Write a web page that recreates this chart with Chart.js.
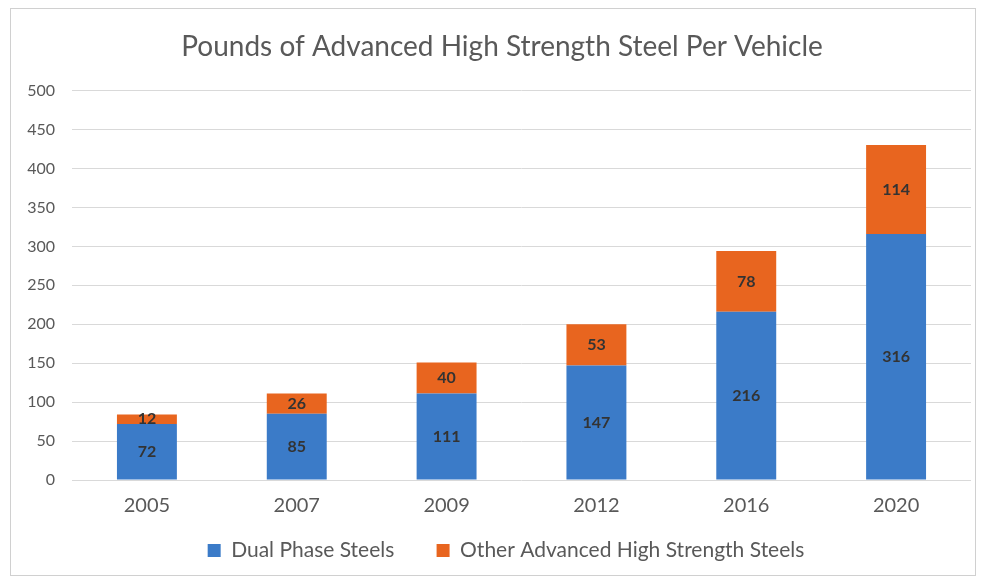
<!DOCTYPE html>
<html>
<head>
<meta charset="utf-8">
<script src="https://cdn.jsdelivr.net/npm/chart.js@4"></script>
<style>
  body { margin: 0; background: #fff; }
  #frame {
    position: absolute; left: 10px; top: 8px;
    width: 966px; height: 568px;
    border: 1px solid #d0d0d0; box-sizing: border-box;
  }
</style>
</head>
<body>
<div id="frame"><canvas id="steel-chart"></canvas></div>
<script>
// chart data
var years = ['2005', '2007', '2009', '2012', '2016', '2020'];
var dualPhase = [72, 85, 111, 147, 216, 316];
var otherAhss = [12, 26, 40, 53, 78, 114];
var yTicks = [0, 50, 100, 150, 200, 250, 300, 350, 400, 450, 500];

var fontFamily = 'Lato, "Open Sans", sans-serif';

// write the value in the middle of every bar segment
var segmentLabels = {
  id: 'segmentLabels',
  afterDatasetsDraw: function (chart) {
    var ctx = chart.ctx;
    ctx.save();
    ctx.font = 'bold 16px ' + fontFamily;
    ctx.fillStyle = '#333333';
    ctx.textAlign = 'center';
    ctx.textBaseline = 'middle';
    chart.data.datasets.forEach(function (ds, i) {
      chart.getDatasetMeta(i).data.forEach(function (bar, j) {
        var p = bar.getCenterPoint();
        ctx.fillText(ds.data[j], p.x, p.y);
      });
    });
    ctx.restore();
  }
};

// nudge title and legend a little to the right, like the original
var nudgeBoxes = {
  id: 'nudgeBoxes',
  afterLayout: function (chart) {
    if (chart.titleBlock) { chart.titleBlock.left += 11; chart.titleBlock.right += 11; }
    if (chart.legend) { chart.legend.left += 15; chart.legend.right += 15; }
  }
};

var ctx = document.getElementById('steel-chart').getContext('2d');
new Chart(ctx, {
  type: 'bar',
  data: {
    labels: years,
    datasets: [
      { label: 'Dual Phase Steels', data: dualPhase, backgroundColor: '#3b7bc8' },
      { label: 'Other Advanced High Strength Steels', data: otherAhss, backgroundColor: '#e8651f' }
    ]
  },
  plugins: [segmentLabels, nudgeBoxes],
  options: {
    responsive: true,
    maintainAspectRatio: false,
    animation: false,
    layout: { padding: { left: 0, right: 4, top: 0, bottom: 4 } },
    datasets: { bar: { categoryPercentage: 1, barPercentage: 0.4 } },
    plugins: {
      tooltip: { enabled: false },
      title: {
        display: true,
        text: 'Pounds of Advanced High Strength Steel Per Vehicle',
        color: '#595959',
        font: { family: fontFamily, size: 28, weight: 'normal' },
        padding: { top: 21, bottom: 27 }
      },
      legend: {
        position: 'bottom',
        labels: {
          color: '#595959',
          font: { family: fontFamily, size: 21 },
          boxWidth: 13,
          boxHeight: 13,
          padding: 10,
          // trailing spaces on the first item widen the gap to the second one
          generateLabels: function (chart) {
            var items = Chart.defaults.plugins.legend.labels.generateLabels(chart);
            items[0].text = items[0].text + '      ';
            items.forEach(function (it) { it.lineWidth = 0; });
            return items;
          }
        }
      }
    },
    scales: {
      x: {
        stacked: true,
        grid: { display: false },
        border: { display: false },
        ticks: { color: '#595959', font: { family: fontFamily, size: 20 }, padding: 6 },
        afterFit: function (scale) { scale.height = 50; }
      },
      y: {
        stacked: true,
        min: 0,
        max: 500,
        border: { display: false },
        grid: { color: '#d9d9d9', drawTicks: false },
        afterBuildTicks: function (scale) {
          scale.ticks = yTicks.map(function (v) { return { value: v }; });
        },
        ticks: { color: '#595959', font: { family: fontFamily, size: 16 }, padding: 17 },
        afterFit: function (scale) { scale.width = 61; }
      }
    }
  }
});
</script>
</body>
</html>
